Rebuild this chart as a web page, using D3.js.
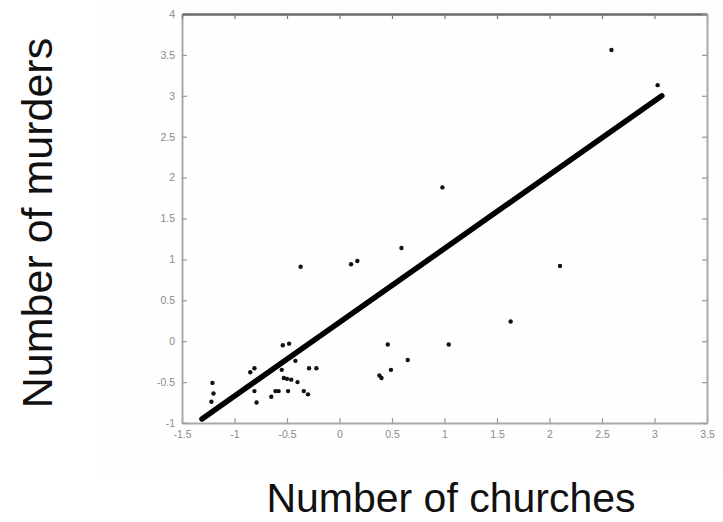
<!DOCTYPE html>
<html><head><meta charset="utf-8">
<script src="https://cdn.jsdelivr.net/npm/d3@7"></script>
<style>
html,body{margin:0;padding:0;background:#fff;}
svg{display:block;}
</style></head>
<body>
<svg id="c" width="723" height="522"></svg>
<script>
// Data (standardized values)
const churches = [0.98, 2.59, 3.03, 2.10, 1.63, 1.04, 0.59, -0.37, 0.17, 0.11, 0.46, 0.65, 0.49, 0.38, 0.40,
  -0.29, -0.22, -0.54, -0.48, -0.42, -0.53, -0.50, -0.46, -0.40, -0.55,
  -0.85, -0.81, -1.21, -1.20, -1.22, -0.81, -0.79, -0.65, -0.61, -0.58, -0.49, -0.34, -0.30];
const murders = [1.88, 3.56, 3.13, 0.92, 0.24, -0.04, 1.14, 0.91, 0.98, 0.94, -0.04, -0.23, -0.35, -0.42, -0.45,
  -0.33, -0.33, -0.05, -0.03, -0.24, -0.45, -0.46, -0.47, -0.50, -0.35,
  -0.38, -0.33, -0.51, -0.64, -0.74, -0.61, -0.75, -0.68, -0.61, -0.61, -0.61, -0.61, -0.65];
const fitX = [-1.31, 3.07];
const fitY = [-0.95, 3.0];
const xTicks = [-1.5, -1, -0.5, 0, 0.5, 1, 1.5, 2, 2.5, 3, 3.5];
const yTicks = [-1, -0.5, 0, 0.5, 1, 1.5, 2, 2.5, 3, 3.5, 4];
const xLabel = "Number of churches";
const yLabel = "Number of murders";

const svg = d3.select("#c");
const L = 182, R = 707, T = 14, B = 423;
const x = d3.scaleLinear().domain([-1.5, 3.5]).range([L, R]);
const y = d3.scaleLinear().domain([-1, 4]).range([B, T]);

// very faint panel background
svg.append("rect").attr("x", 95).attr("y", 0).attr("width", 628).attr("height", 476).attr("fill", "#fefefe");

const fmt = d => String(d);
const tickCol = "#8a8a8a";

const gx = svg.append("g").attr("transform", `translate(0,${B})`)
  .call(d3.axisBottom(x).tickValues(xTicks).tickFormat(fmt).tickSizeInner(-5).tickSizeOuter(0).tickPadding(8));
const gy = svg.append("g").attr("transform", `translate(${L},0)`)
  .call(d3.axisLeft(y).tickValues(yTicks).tickFormat(fmt).tickSizeInner(-5).tickSizeOuter(0).tickPadding(7));
const gt = svg.append("g").attr("transform", `translate(0,${T})`)
  .call(d3.axisTop(x).tickValues(xTicks).tickFormat("").tickSizeInner(-5).tickSizeOuter(0));
const gr = svg.append("g").attr("transform", `translate(${R},0)`)
  .call(d3.axisRight(y).tickValues(yTicks).tickFormat("").tickSizeInner(-5).tickSizeOuter(0));

[gx, gy, gr].forEach(g => {
  g.select(".domain").attr("stroke", "#a8a8a8").attr("stroke-width", 2);
  g.selectAll(".tick line").attr("stroke", "#999").attr("stroke-width", 1.2);
  g.selectAll(".tick text").attr("fill", tickCol).attr("font-family", "Liberation Sans, Arial, sans-serif").attr("font-size", 10.5);
});
gt.select(".domain").attr("stroke", "#6a6a6a").attr("stroke-width", 2.5);
gt.selectAll(".tick line").attr("stroke", "#777").attr("stroke-width", 1.2);

// regression line
svg.append("line")
  .attr("x1", x(fitX[0])).attr("y1", y(fitY[0]))
  .attr("x2", x(fitX[1])).attr("y2", y(fitY[1]))
  .attr("stroke", "#000").attr("stroke-width", 5.5).attr("stroke-linecap", "round");

// points
const pts = churches.map((c, i) => ({c, m: murders[i]}));
svg.append("g").selectAll("circle").data(pts).join("circle")
  .attr("cx", d => x(d.c)).attr("cy", d => y(d.m))
  .attr("r", 2.2).attr("fill", "#111");

// axis titles
svg.append("text").attr("x", 451).attr("y", 512).attr("text-anchor", "middle")
  .attr("font-family", "Liberation Sans, Arial, sans-serif").attr("font-size", 41).attr("fill", "#111")
  .text(xLabel);
svg.append("text").attr("transform", "translate(52,223) rotate(-90)").attr("text-anchor", "middle")
  .attr("font-family", "Liberation Sans, Arial, sans-serif").attr("font-size", 43).attr("fill", "#111")
  .text(yLabel);
</script>
</body></html>
